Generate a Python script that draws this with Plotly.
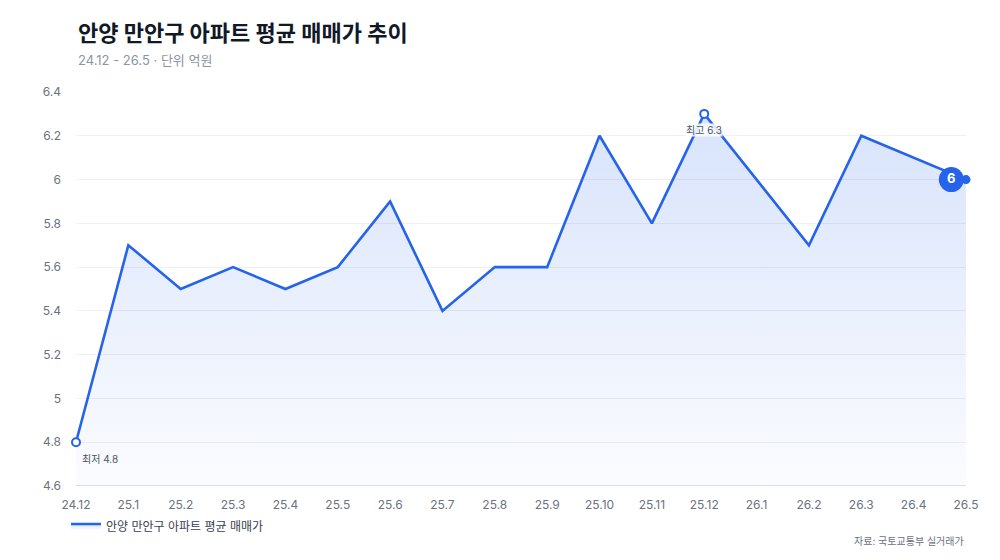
import plotly.graph_objects as go

months = ["24.12", "25.1", "25.2", "25.3", "25.4", "25.5", "25.6", "25.7", "25.8", "25.9",
          "25.10", "25.11", "25.12", "26.1", "26.2", "26.3", "26.4", "26.5"]
prices = [4.8, 5.7, 5.5, 5.6, 5.5, 5.6, 5.9, 5.4, 5.6, 5.6,
          6.2, 5.8, 6.3, 6.0, 5.7, 6.2, 6.1, 6.0]
y_ticks = [4.6, 4.8, 5.0, 5.2, 5.4, 5.6, 5.8, 6.0, 6.2, 6.4]

series_name = "안양 만안구 아파트 평균 매매가"
title = "안양 만안구 아파트 평균 매매가 추이"
subtitle = "24.12 - 26.5 · 단위 억원"
source = "자료: 국토교통부 실거래가"

BLUE = "#2563eb"
FONT = "Inter, Noto Sans CJK KR"

xs = list(range(len(months)))
imax = prices.index(max(prices))
imin = prices.index(min(prices))
ilast = len(prices) - 1

fig = go.Figure()

# baseline for gradient fill
fig.add_trace(go.Scatter(x=xs, y=[y_ticks[0]] * len(xs), mode="lines",
                         line=dict(width=0, color="rgba(0,0,0,0)"), showlegend=False,
                         hoverinfo="skip"))
fig.add_trace(go.Scatter(
    x=xs, y=prices, mode="lines", name=series_name,
    line=dict(color=BLUE, width=2.6),
    fill="tonexty",
    fillgradient=dict(type="vertical",
                      colorscale=[[0, "rgba(37,99,235,0.02)"], [1, "rgba(37,99,235,0.18)"]]),
    cliponaxis=False,
))
# extreme markers
fig.add_trace(go.Scatter(
    x=[xs[imax], xs[imin]], y=[prices[imax], prices[imin]], mode="markers",
    marker=dict(size=8, color="white", line=dict(color=BLUE, width=2)),
    showlegend=False, cliponaxis=False, hoverinfo="skip"))
# last point dot
fig.add_trace(go.Scatter(
    x=[xs[ilast]], y=[prices[ilast]], mode="markers",
    marker=dict(size=9, color=BLUE), showlegend=False, cliponaxis=False, hoverinfo="skip"))
# last value bubble (slightly left of the last point)
fig.add_trace(go.Scatter(
    x=[xs[ilast] - 0.28], y=[prices[ilast]], mode="markers+text",
    text=[f"<b>{prices[ilast]:g}</b>"], textposition="middle center",
    textfont=dict(family=FONT, size=13, color="white"),
    marker=dict(size=25, color=BLUE), showlegend=False, cliponaxis=False, hoverinfo="skip"))

fig.add_annotation(x=xs[imax], y=prices[imax], yshift=-16, text=f"최고 {prices[imax]:g}",
                   showarrow=False, font=dict(family=FONT, size=10, color="#4b5563"),
                   bgcolor="rgba(255,255,255,0.85)", borderpad=0)
fig.add_annotation(x=xs[imin], y=prices[imin], yshift=-17, xshift=4, xanchor="left",
                   text=f"최저 {prices[imin]:g}",
                   showarrow=False, font=dict(family=FONT, size=10, color="#4b5563"))

# title, subtitle, source
fig.add_annotation(xref="paper", yref="paper", x=0, y=1.1497, xanchor="left", yanchor="middle",
                   text=f"<b>{title}</b>", showarrow=False,
                   font=dict(family=FONT, size=22, color="#111827"))
fig.add_annotation(xref="paper", yref="paper", x=0, y=1.0812, xanchor="left", yanchor="middle",
                   text=subtitle, showarrow=False,
                   font=dict(family=FONT, size=13, color="#8b95a1"))
fig.add_annotation(xref="paper", yref="paper", x=1, y=-0.1396, xanchor="right", yanchor="middle",
                   text=source, showarrow=False, font=dict(family=FONT, size=10, color="#6b7280"))

fig.update_layout(
    width=1000, height=560,
    margin=dict(l=76, r=34, t=92, b=74, autoexpand=False),
    paper_bgcolor="white", plot_bgcolor="white",
    font=dict(family=FONT, color="#6b7280", size=12),
    legend=dict(orientation="h", xref="container", yref="container",
                x=0.066, xanchor="left", y=1 - 526 / 560, yanchor="middle",
                font=dict(family=FONT, size=12, color="#374151")),
    showlegend=True,
)
fig.update_xaxes(range=[0, ilast], tickvals=xs, ticktext=months, showgrid=False, zeroline=False,
                 showline=False, ticks="", tickfont=dict(size=12, color="#6b7280"),
                 ticklabelstandoff=10, automargin=False)
fig.update_yaxes(range=[y_ticks[0], y_ticks[-1]], tickvals=y_ticks, showgrid=True,
                 gridcolor="#eef0f4", zeroline=False, showline=False, ticks="",
                 tickfont=dict(size=12, color="#6b7280"), ticklabelstandoff=14, automargin=False)
fig.add_shape(type="line", xref="paper", yref="y", x0=0, x1=1, y0=y_ticks[0], y1=y_ticks[0],
              line=dict(color="#d1d5db", width=1.5), layer="above")

fig.write_html("out.html", config={"displayModeBar": False},
               post_script="document.body.style.margin='0';")
